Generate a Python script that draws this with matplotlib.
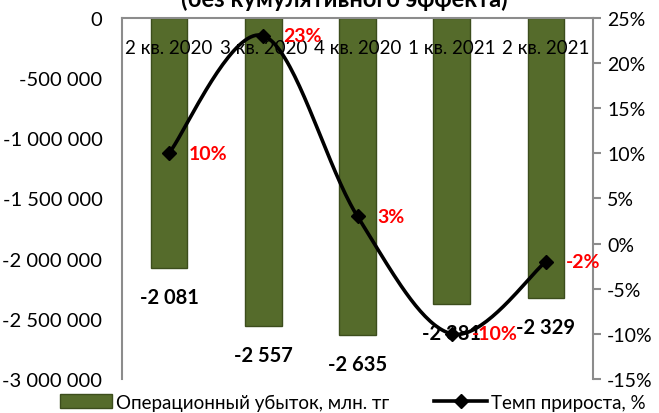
import matplotlib
matplotlib.use("Agg")
import matplotlib.pyplot as plt
import numpy as np
from matplotlib.lines import Line2D
from matplotlib.patches import Patch

categories = ["2 кв. 2020", "3 кв. 2020", "4 кв. 2020", "1 кв. 2021", "2 кв. 2021"]
loss_mln = [-2081, -2557, -2635, -2381, -2329]
growth_pct = [10, 23, 3, -10, -2]
left_ticks = [0, -500000, -1000000, -1500000, -2000000, -2500000, -3000000]
right_ticks = [25, 20, 15, 10, 5, 0, -5, -10, -15]

plt.rcParams['font.family'] = ['Lato', 'DejaVu Sans']

fig = plt.figure(figsize=(6.59, 4.14), dpi=100)
ax = fig.add_axes([0.185, 0.082, 0.715, 0.873])
ax2 = ax.twinx()

x = np.arange(len(categories))
vals = np.array(loss_mln) * 1000
ax.bar(x, vals, width=0.39, color='#556b2b', edgecolor='#3c4d1c', linewidth=1.0, zorder=2)
ax.set_xlim(-0.5, len(categories) - 0.5)
ax.set_ylim(-3000000, 0)
ax.set_yticks(left_ticks)
ax.set_yticklabels([f"{v:,}".replace(",", " ") for v in left_ticks], fontsize=14.5)
ax.tick_params(axis='y', length=0, pad=14)
ax.set_xticks([])
for s in ['bottom', 'right']:
    ax.spines[s].set_visible(False)
ax.spines['left'].set_color('#8c8c8c')
ax.spines['top'].set_color('#8c8c8c')
ax.spines['left'].set_linewidth(1.5)
ax.spines['top'].set_linewidth(1.5)

for i, c in enumerate(categories):
    ax.annotate(c, (i, 0), xytext=(0, -30), textcoords='offset pixels',
                ha='center', va='center', fontsize=13.5, zorder=5)
for i, v in enumerate(vals):
    ax.annotate(f"{loss_mln[i]:,}".replace(",", " "), (i, v), xytext=(0, -29),
                textcoords='offset pixels', ha='center', va='center',
                fontsize=14.5, fontweight='bold', zorder=5)

# smooth line rendering through the data points
px = x.astype(float)
py = np.array(growth_pct, dtype=float)
def smooth(px, py, n=40):
    xs, ys = [], []
    P = list(zip(px, py))
    P = [P[0]] + P + [P[-1]]
    for k in range(1, len(P) - 2):
        p0, p1, p2, p3 = map(np.array, (P[k-1], P[k], P[k+1], P[k+2]))
        t = np.linspace(0, 1, n)[:, None]
        b1 = p1 + (p2 - p0) / 6
        b2 = p2 - (p3 - p1) / 6
        pts = (1-t)**3 * p1 + 3*(1-t)**2*t*b1 + 3*(1-t)*t**2*b2 + t**3*p2
        xs.extend(pts[:, 0]); ys.extend(pts[:, 1])
    return np.array(xs), np.array(ys)
sx, sy = smooth(px, py)
ax2.plot(sx, sy, color='black', lw=2.6, zorder=3)
ax2.plot(px, py, ls='none', marker='D', ms=7, color='black', zorder=4)
ax2.set_ylim(-15, 25)
ax2.set_yticks(right_ticks)
ax2.set_yticklabels([f"{v}%" for v in right_ticks], fontsize=14)
ax2.tick_params(axis='y', length=6, width=1.5, color='#8c8c8c', pad=4)
for s in ['bottom', 'left', 'top']:
    ax2.spines[s].set_visible(False)
ax2.spines['right'].set_color('#8c8c8c')
ax2.spines['right'].set_linewidth(1.5)
for i, v in enumerate(growth_pct):
    ax2.annotate(f"{v}%", (i, v), xytext=(20, 0), textcoords='offset pixels',
                 ha='left', va='center', fontsize=14, fontweight='bold', color='#ff0000', zorder=6)

fig.text(0.523, 1.003, "(без кумулятивного эффекта)", ha='center', va='center',
         fontsize=17, fontweight='bold')

handles = [Patch(facecolor='#556b2b', edgecolor='#3c4d1c'),
           Line2D([0], [0], color='black', lw=2.6, marker='D', ms=7)]
fig.legend(handles, ["Операционный убыток, млн. тг", "Темп прироста, %"],
           loc='lower center', bbox_to_anchor=(0.535, -0.035), ncol=2, frameon=False,
           fontsize=13.5, handlelength=2.8, columnspacing=2.4, handletextpad=0.2)

fig.savefig("out.png", dpi=100)
